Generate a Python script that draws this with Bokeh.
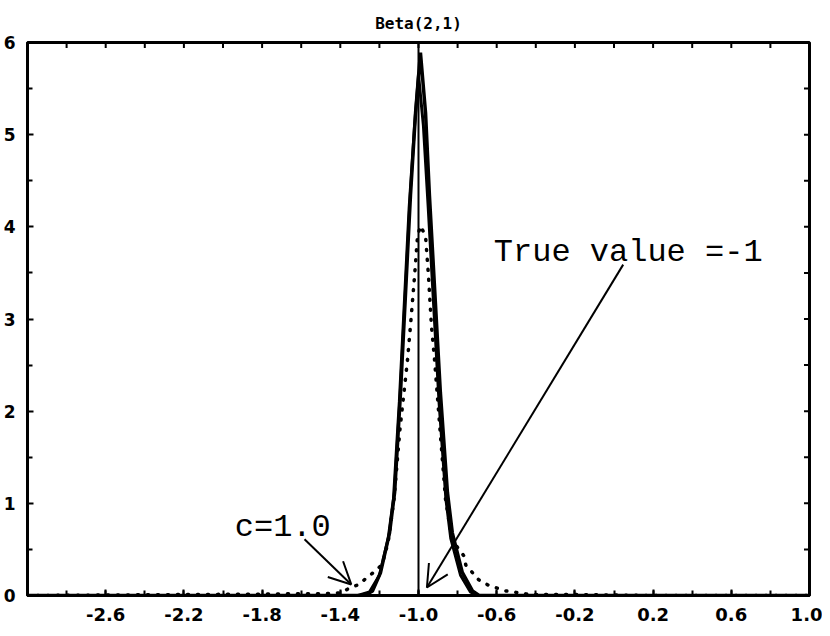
import math
from bokeh.plotting import figure
from bokeh.models import (FixedTicker, LinearAxis, Range1d, Arrow, OpenHead, Label,
                          NumeralTickFormatter)
from bokeh.embed import file_html
from bokeh.resources import INLINE

# ---------------- data ----------------
TITLE = "Beta(2,1)"
TRUE_VALUE = -1.0
X_MIN, X_MAX = -3.0, 1.0
Y_MIN, Y_MAX = 0.0, 6.0

x_tick_labels = [-2.6, -2.2, -1.8, -1.4, -1.0, -0.6, -0.2, 0.2, 0.6, 1.0]
x_minor_ticks = [-3.0, -2.8, -2.6, -2.4, -2.2, -2.0, -1.8, -1.6, -1.4, -1.2, -1.0,
                 -0.8, -0.6, -0.4, -0.2, 0.0, 0.2, 0.4, 0.6, 0.8, 1.0]
y_tick_labels = [0, 1, 2, 3, 4, 5, 6]
y_minor_ticks = [0.5, 1.5, 2.5, 3.5, 4.5, 5.5]

# solid estimate 1
est1_x = [-3.0, -1.6, -1.30, -1.26, -1.235, -1.194, -1.148, -1.122, -1.092, -1.041,
          -1.015, -0.99, -0.964, -0.944, -0.888, -0.852, -0.827, -0.776, -0.724, -0.69, 1.0]
est1_y = [0.0, 0.0, 0.0, 0.02, 0.05, 0.25, 0.68, 1.12, 2.20, 4.34,
          5.24, 5.89, 5.24, 4.34, 2.20, 1.12, 0.68, 0.25, 0.05, 0.0, 0.0]

# solid estimate 2
est2_x = [-3.0, -1.6, -1.31, -1.25, -1.20, -1.155, -1.128, -1.098, -1.048, -1.02,
          -1.0, -0.975, -0.95, -0.895, -0.86, -0.835, -0.785, -0.735, -0.70, 1.0]
est2_y = [0.0, 0.0, 0.0, 0.04, 0.22, 0.62, 1.05, 2.10, 4.20, 5.10,
          5.65, 5.10, 4.20, 2.10, 1.05, 0.62, 0.22, 0.04, 0.0, 0.0]

# dotted estimate (c = 1.0)
dot_x = [-3.0, -2.6, -2.2, -1.8, -1.6, -1.48, -1.395, -1.354, -1.303, -1.262, -1.217,
         -1.186, -1.155, -1.125, -1.095, -1.056, -1.041, -1.02, -1.005, -0.99,
         -0.964, -0.949, -0.934, -0.918, -0.89, -0.862, -0.83, -0.80, -0.768, -0.758,
         -0.692, -0.641, -0.554, -0.427, -0.2, 0.2, 1.0]
dot_y = [0.0, 0.005, 0.01, 0.015, 0.02, 0.02, 0.03, 0.08, 0.12, 0.20, 0.27,
         0.34, 0.58, 1.05, 1.80, 2.56, 2.93, 3.47, 3.90, 4.01,
         3.90, 3.47, 2.93, 2.56, 1.80, 1.05, 0.62, 0.52, 0.43, 0.33,
         0.17, 0.11, 0.05, 0.01, 0.01, 0.0, 0.0]

# ---------------- figure ----------------
p = figure(width=822, height=628, output_backend="svg", toolbar_location=None,
           x_range=Range1d(X_MIN, X_MAX), y_range=Range1d(Y_MIN, Y_MAX),
           min_border_left=24, min_border_right=13, min_border_top=42,
           min_border_bottom=33, x_axis_location=None, y_axis_location=None)
p.xgrid.visible = False
p.ygrid.visible = False
p.outline_line_color = "black"
p.outline_line_width = 3
p.background_fill_color = "white"
p.border_fill_color = "white"

p.title.text = TITLE
p.title.align = "center"
p.title.text_font = "DejaVu Sans Mono"
p.title.text_font_style = "bold"
p.title.text_font_size = "16px"
p.title.text_color = "black"
p.title.standoff = 20

xt = FixedTicker(ticks=x_tick_labels, minor_ticks=x_minor_ticks)
yt = FixedTicker(ticks=y_tick_labels, minor_ticks=y_minor_ticks)


def style(ax, size):
    ax.axis_line_color = "black"
    ax.axis_line_width = 3
    ax.major_tick_in = 6
    ax.major_tick_out = 0
    ax.minor_tick_in = 5
    ax.minor_tick_out = 0
    ax.major_tick_line_width = 2
    ax.minor_tick_line_width = 2
    ax.major_tick_line_color = "black"
    ax.minor_tick_line_color = "black"
    ax.major_label_text_font = "DejaVu Sans"
    ax.major_label_text_font_style = "bold"
    ax.major_label_text_font_size = size
    ax.major_label_text_color = "black"
    ax.major_label_standoff = 12


xb = LinearAxis(ticker=xt, formatter=NumeralTickFormatter(format="0.0"))
style(xb, "18px")
p.add_layout(xb, "below")

yl = LinearAxis(ticker=yt)
style(yl, "17px")
p.add_layout(yl, "left")

# inward ticks on the top and right frame edges
p.scatter(x=x_minor_ticks, y=[Y_MAX] * len(x_minor_ticks), marker="dash",
          angle=math.pi / 2, size=11, line_color="black", line_width=2)
right_ticks = y_tick_labels + y_minor_ticks
p.scatter(x=[X_MAX] * len(right_ticks), y=right_ticks, marker="dash",
          size=11, line_color="black", line_width=2)

# curves
p.line(est1_x, est1_y, line_color="black", line_width=3.5)
p.line(est2_x, est2_y, line_color="black", line_width=3)
p.line(dot_x, dot_y, line_color="black", line_width=3.5, line_dash="1 9",
       line_cap="round")

# true value line
p.segment(x0=[TRUE_VALUE], y0=[Y_MIN], x1=[TRUE_VALUE], y1=[Y_MAX], line_color="black",
          line_width=2)

# annotations
p.add_layout(Label(x=-0.615, y=3.72, text="True value =-1", text_font="Liberation Mono",
                   text_font_size="32px", text_color="black",
                   text_baseline="alphabetic", text_align="left"))
p.add_layout(Label(x=-1.94, y=0.74, text="c=1.0", text_font="Liberation Mono",
                   text_font_size="32px", text_color="black",
                   text_baseline="alphabetic", text_align="left"))

p.add_layout(Arrow(end=OpenHead(size=22, line_width=2, line_color="black"),
                   x_start=0.047, y_start=3.59, x_end=-0.957, y_end=0.087,
                   line_width=2, line_color="black"))
p.add_layout(Arrow(end=OpenHead(size=22, line_width=2, line_color="black"),
                   x_start=-1.583, y_start=0.61, x_end=-1.344, y_end=0.12,
                   line_width=2, line_color="black"))

open("out.html", "w").write(file_html(p, INLINE))
